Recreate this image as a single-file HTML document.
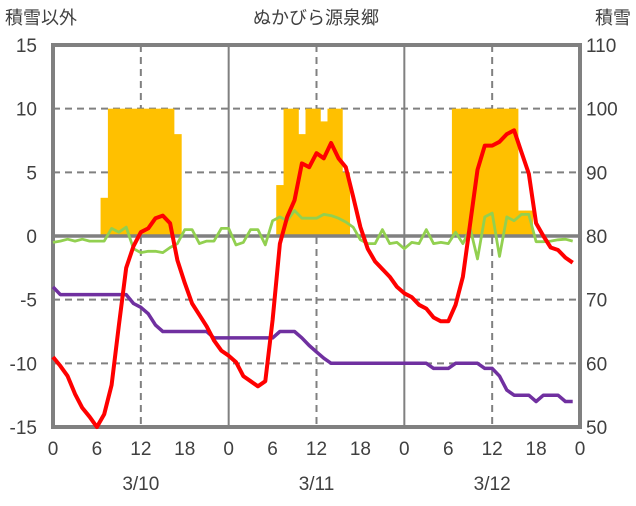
<!DOCTYPE html>
<html><head><meta charset="utf-8"><style>
body{margin:0;background:#fff;}
svg text{font-family:"Liberation Sans","Noto Sans CJK JP",sans-serif;fill:#404040;}
</style></head><body>
<svg id="chart" width="636" height="501" xmlns="http://www.w3.org/2000/svg">
<g id="grid"></g><g id="bars"></g><g id="axes"></g><g id="lines"></g><g id="labels"></g>
</svg>
<script>
const xTickLabels=["0","6","12","18","0","6","12","18","0","6","12","18","0"];
const dateLabels=["3/10","3/11","3/12"];
const leftTicks=[15,10,5,0,-5,-10,-15];
const rightTicks=[110,100,90,80,70,60,50];
const snowHours=[7,8,9,10,11,12,13,14,15,16,17,31,32,33,34,35,36,37,38,39,40,55,56,57,58,59,60,61,62,63,64,65];
const snowValues=[86,100,100,100,100,100,100,100,100,100,96,88,100,100,96,100,100,98,100,100,90,100,100,100,100,100,100,100,100,100,84,84];
const tempRed=[-9.5,-10.2,-11,-12.4,-13.5,-14.2,-15,-14,-11.7,-7,-2.5,-0.8,0.3,0.6,1.4,1.6,1,-1.9,-3.7,-5.3,-6.2,-7.1,-8.2,-9,
-9.4,-9.9,-11,-11.4,-11.8,-11.4,-6.6,-0.6,1.5,2.8,5.7,5.4,6.5,6.1,7.3,6.1,5.4,3.1,0.7,-1,-2,-2.6,-3.2,-4,
-4.5,-4.8,-5.4,-5.7,-6.4,-6.7,-6.7,-5.4,-3.2,1,5.2,7.1,7.1,7.4,8.0,8.3,6.6,4.9,1,0,-0.9,-1.1,-1.7,-2.1];
const seriesPurple=[-4,-4.6,-4.6,-4.6,-4.6,-4.6,-4.6,-4.6,-4.6,-4.6,-4.6,-5.3,-5.6,-6.1,-7,-7.5,-7.5,-7.5,-7.5,-7.5,-7.5,-7.5,-8,-8,
-8,-8,-8,-8,-8,-8,-8,-7.5,-7.5,-7.5,-8,-8.6,-9.1,-9.6,-10,-10,-10,-10,-10,-10,-10,-10,-10,-10,
-10,-10,-10,-10,-10.4,-10.4,-10.4,-10,-10,-10,-10,-10.4,-10.4,-11,-12.1,-12.5,-12.5,-12.5,-13,-12.5,-12.5,-12.5,-13,-13];
const seriesGreen=[-0.5,-0.4,-0.25,-0.4,-0.25,-0.4,-0.4,-0.4,0.6,0.3,0.7,-1,-1.3,-1.2,-1.2,-1.3,-0.9,-0.6,0.5,0.5,-0.6,-0.4,-0.4,0.6,
0.6,-0.7,-0.5,0.5,0.5,-0.7,1.2,1.5,1.2,2,1.4,1.4,1.4,1.7,1.6,1.4,1.1,0.7,-0.3,-0.6,-0.6,0.5,-0.6,-0.5,
-1,-0.5,-0.6,0.5,-0.6,-0.5,-0.6,0.3,-0.6,0.6,-1.8,1.5,1.8,-1.6,1.5,1.2,1.7,1.7,-0.45,-0.45,-0.4,-0.3,-0.25,-0.4];

const X0=53,X1=580,Y0=45,Y1=427,NH=72;
const xs=h=>X0+h*(X1-X0)/NH;
const yl=v=>Y1-(v+15)/30*(Y1-Y0);
const yr=v=>Y1-(v-50)/60*(Y1-Y0);
const NS="http://www.w3.org/2000/svg";
function mk(tag,attrs,parent){const e=document.createElementNS(NS,tag);for(const k in attrs)e.setAttribute(k,attrs[k]);document.getElementById(parent).appendChild(e);return e;}

[10,5,-5,-10].forEach(v=>{const l=mk('line',{x1:X0,x2:X1,y1:yl(v),y2:yl(v),stroke:'#808080','stroke-width':2,'stroke-dasharray':'7,5'},'grid');

});
[12,36,60].forEach(h=>{const l=mk('line',{x1:xs(h),x2:xs(h),y1:Y0,y2:Y1,stroke:'#808080','stroke-width':2,'stroke-dasharray':'7,5'},'grid');

});
[24,48].forEach(h=>{const l=mk('line',{x1:xs(h),x2:xs(h),y1:Y0,y2:Y1,stroke:'#808080','stroke-width':2},'grid');

});

const bw=(X1-X0)/NH;
snowHours.forEach((h,i)=>{const r=mk('rect',{x:xs(h)-bw/2,width:bw+0.6,y:yr(snowValues[i]),height:yr(80)-yr(snowValues[i]),fill:'#FFC000'},'bars');

});

const zl=mk('line',{x1:X0,x2:X1,y1:yl(0),y2:yl(0),stroke:'#808080','stroke-width':3.5},'axes');


const bd=mk('rect',{x:X0,y:Y0,width:X1-X0,height:Y1-Y0,fill:'none',stroke:'#808080','stroke-width':4},'axes');



function line(data,color,w,name){const p=data.map((v,i)=>(i?'L':'M')+xs(i).toFixed(1)+','+yl(v).toFixed(1)).join('');
const e=mk('path',{d:p,fill:'none',stroke:color,'stroke-width':w,'stroke-linejoin':'round'},'lines');

}
line(seriesGreen,'#92D050',2.8,'green-line');
line(seriesPurple,'#7030A0',3.5,'purple-line');
line(tempRed,'#FF0000',4,'temperature-line');

function txt(s,x,y,anchor,name,size){const t=mk('text',{x:x,y:y,'text-anchor':anchor,'font-size':size||19},'labels');t.textContent=s;

}
leftTicks.forEach(v=>txt(String(v),37,yl(v)+7,'end','left-tick'));
rightTicks.forEach(v=>txt(String(v),586,yr(v)+7,'start','right-tick'));
xTickLabels.forEach((s,i)=>txt(s,xs(i*6),455,'middle','x-tick'));
dateLabels.forEach((s,i)=>txt(s,xs(12+24*i),490,'middle','date-label'));
txt('積雪以外',5,24,'start','left-axis-title',18);
txt('積雪',631,24,'end','right-axis-title',18);
txt('ぬかびら源泉郷',316,24,'middle','chart-title',18);
</script>
</body></html>
